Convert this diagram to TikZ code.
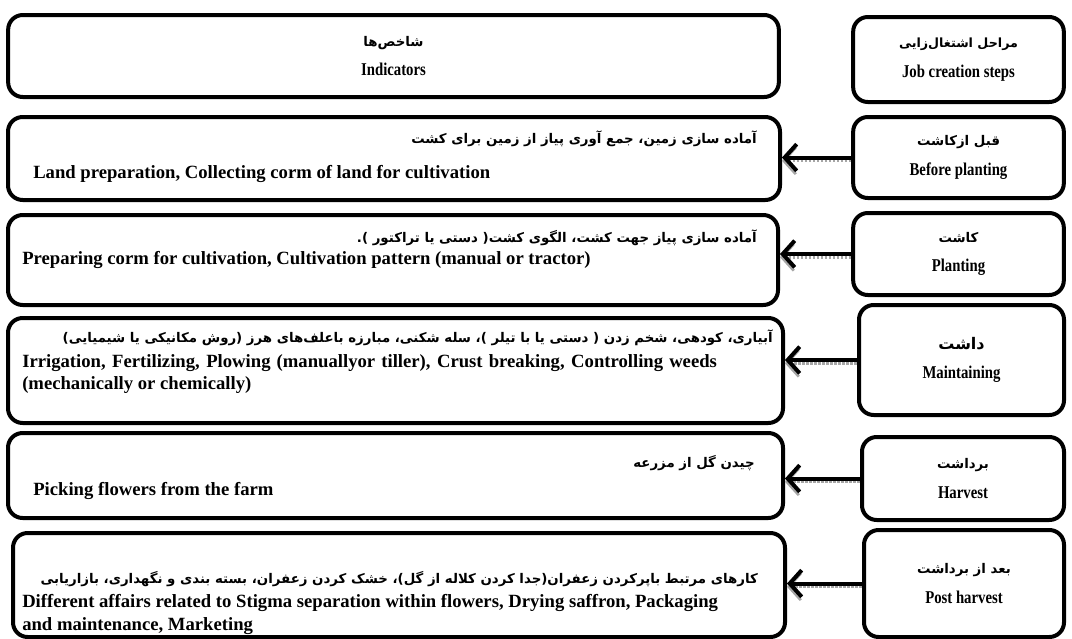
\documentclass[tikz,border=0pt]{standalone}
\usepackage{fontspec}
\setmainfont{Liberation Serif}
\newfontfamily\arabicfont[Script=Arabic]{DejaVu Sans}
\newfontfamily\narrowfont[FakeStretch=0.82]{Liberation Serif}
\TeXXeTstate=1
\usetikzlibrary{arrows.meta, calc}

\newcommand{\fa}[1]{{\arabicfont\beginR #1\endR}}

\begin{document}
\begin{tikzpicture}[x=0.75pt, y=-0.75pt,
    box/.style={draw, line width=3pt, rounded corners=11pt, inner sep=0pt},
    stepbox/.style={box, align=center, font=\narrowfont\fontsize{13.5}{22}\selectfont\bfseries},
    fatext/.style={font=\arabicfont\fontsize{10}{14}\selectfont\bfseries, inner sep=0pt},
    entext/.style={font=\fontsize{14}{17}\selectfont\bfseries, inner sep=0pt},
    conn/.style={line width=3pt, -{Straight Barb[length=9pt, width=20pt]},
        preaction={draw=gray!70, densely dotted, line width=2pt, transform canvas={yshift=-2.5pt}}}]
    \useasboundingbox (0,0) rectangle (1072,639);

    % header row
    \node[stepbox, minimum width=578pt, minimum height=61.5pt] (ind) at (393.5,56) {{\arabicfont\fontsize{10}{12}\selectfont\fa{شاخص‌ها}}\\ Indicators};
    \node[stepbox, minimum width=158pt, minimum height=63.75pt] (jobs) at (958.5,59.5) {{\arabicfont\fontsize{9.5}{12}\selectfont\fa{مراحل اشتغال‌زایی}}\\ Job creation steps};

    % job creation steps
    \node[stepbox, minimum width=158pt, minimum height=60.75pt] (stp1) at (958.5,157.5) {{\arabicfont\fontsize{10}{12}\selectfont\fa{قبل ازکاشت}}\\ Before planting};
    \node[stepbox, minimum width=158pt, minimum height=61.5pt] (stp2) at (958.5,254) {{\arabicfont\fontsize{10}{12}\selectfont\fa{کاشت}}\\ Planting};
    \node[stepbox, minimum width=153.75pt, minimum height=82.5pt] (stp3) at (961.5,360) {{\arabicfont\fontsize{12}{12}\selectfont\fa{داشت}}\\ Maintaining};
    \node[stepbox, minimum width=151.5pt, minimum height=62.25pt] (stp4) at (963,478.5) {{\arabicfont\fontsize{10}{12}\selectfont\fa{برداشت}}\\ Harvest};
    \node[stepbox, minimum width=150pt, minimum height=80.25pt] (stp5) at (964,583.5) {{\arabicfont\fontsize{10}{12}\selectfont\fa{بعد از برداشت}}\\ Post harvest};

    % indicator boxes
    \node[box, minimum width=579pt, minimum height=62.25pt] (act1) at (394,158.5) {};
    \node[box, minimum width=577.5pt, minimum height=67.5pt] (act2) at (393,260) {};
    \node[box, minimum width=581.25pt, minimum height=78.75pt] (act3) at (395.5,370.5) {};
    \node[box, minimum width=581.25pt, minimum height=63.75pt] (act4) at (395.5,475.5) {};
    \node[box, minimum width=579pt, minimum height=78pt] (act5) at (399,585) {};

    % texts
    \node[fatext, anchor=base east] (act1fa) at (757,143) {\fa{آماده سازی زمین، جمع آوری پیاز از زمین برای کشت}};
    \node[entext, anchor=base west] (act1en) at (33,178) {Land preparation, Collecting corm of land for cultivation};
    \node[fatext, anchor=base east] (act2fa) at (757,242) {\fa{آماده سازی پیاز جهت کشت، الگوی کشت( دستی یا تراکتور ).}};
    \node[entext, anchor=base west] (act2en) at (22,264) {Preparing corm for cultivation, Cultivation pattern (manual or tractor)};
    \node[fatext, anchor=base east] (act3fa) at (773,342) {\fa{آبیاری، کودهی، شخم زدن ( دستی یا با تیلر )، سله شکنی، مبارزه باعلف‌های هرز (روش مکانیکی یا شیمیایی)}};
    \node[entext, anchor=north west, text width=521pt, align=justify] (act3en) at (22,354) {Irrigation, Fertilizing, Plowing (manuallyor tiller), Crust breaking, Controlling weeds\linebreak (mechanically or chemically)};
    \node[fatext, anchor=base east] (act4fa) at (755,467) {\fa{چیدن گل از مزرعه}};
    \node[entext, anchor=base west] (act4en) at (33,495) {Picking flowers from the farm};
    \node[fatext, anchor=base east] (act5fa) at (758,583) {\fa{کارهای مرتبط باپرکردن زعفران(جدا کردن کلاله از گل)، خشک کردن زعفران، بسته بندی و نگهداری، بازاریابی}};
    \node[entext, anchor=north west, align=left] (act5en) at (22,594) {Different affairs related to Stigma separation within flowers, Drying saffron, Packaging\\ and maintenance, Marketing};

    % connectors
    \foreach \n in {1,...,5} {
        \draw[conn] (stp\n.west) -- (stp\n.west -| act\n.east);
    }
\end{tikzpicture}
\end{document}
